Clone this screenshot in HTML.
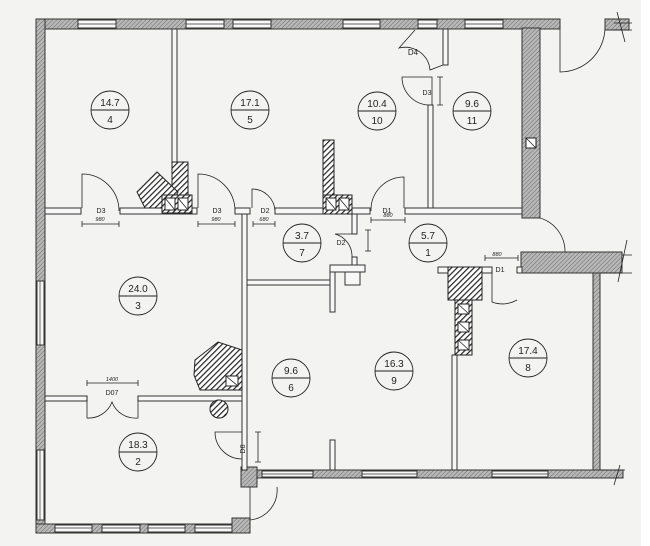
<!DOCTYPE html>
<html><head><meta charset="utf-8"><style>
html,body{margin:0;padding:0;background:#f3f3f2;overflow:hidden;width:650px;height:546px;}
svg{display:block;}
text{font-family:"Liberation Sans",sans-serif;fill:#222;}
</style></head><body>
<svg width="650" height="546" viewBox="0 0 650 546" xmlns="http://www.w3.org/2000/svg">
<defs>
<pattern id="h" width="3" height="3" patternUnits="userSpaceOnUse" patternTransform="rotate(45)">
<rect width="3" height="3" fill="#b8b8b8"/><line x1="0" y1="0" x2="0" y2="3" stroke="#6a6a6a" stroke-width="1"/></pattern>
<pattern id="d" width="4" height="4" patternUnits="userSpaceOnUse" patternTransform="rotate(45)">
<rect width="4" height="4" fill="#fff"/><line x1="0" y1="0" x2="0" y2="4" stroke="#222" stroke-width="2.4"/></pattern>
</defs>
<rect width="650" height="546" fill="#f3f3f2"/>
<rect x="641" y="0" width="9" height="546" fill="#fff"/>
<g stroke="#333" stroke-width="1">
<rect x="36" y="19" width="524" height="10" fill="url(#h)"/>
<rect x="36" y="19" width="9" height="514" fill="url(#h)"/>
<rect x="36" y="524" width="214" height="9" fill="url(#h)"/>
<rect x="605" y="19" width="24" height="11" fill="url(#h)"/>
<rect x="522" y="28" width="18" height="190" fill="url(#h)"/>
<rect x="521" y="252" width="101" height="21" fill="url(#h)"/>
<rect x="593" y="273" width="7" height="197" fill="url(#h)"/>
<rect x="257" y="470" width="366" height="8" fill="url(#h)"/>
<rect x="241" y="467" width="16" height="20" fill="url(#h)"/>
<rect x="232" y="518" width="18" height="15" fill="url(#h)"/>
</g>
<g fill="#f7f7f7" stroke="#333" stroke-width="1">
<rect x="78" y="20" width="38" height="8"/><rect x="186" y="20" width="38" height="8"/><rect x="233" y="20" width="38" height="8"/>
<rect x="343" y="20" width="37" height="8"/><rect x="418" y="20" width="19" height="8"/><rect x="465" y="20" width="38" height="8"/>
<rect x="37" y="281" width="7" height="64"/><rect x="37" y="450" width="7" height="70"/>
<rect x="55" y="525" width="37" height="7"/><rect x="102" y="525" width="38" height="7"/><rect x="148" y="525" width="37" height="7"/><rect x="195" y="525" width="37" height="7"/>
<rect x="262" y="471" width="51" height="6"/><rect x="362" y="471" width="55" height="6"/><rect x="492" y="471" width="56" height="6"/>
</g>
<g stroke="#333" stroke-width="0.7">
<line x1="78" y1="24" x2="116" y2="24"/><line x1="186" y1="24" x2="224" y2="24"/><line x1="233" y1="24" x2="271" y2="24"/>
<line x1="343" y1="24" x2="380" y2="24"/><line x1="418" y1="24" x2="437" y2="24"/><line x1="465" y1="24" x2="503" y2="24"/>
<line x1="40" y1="281" x2="40" y2="345"/><line x1="40" y1="450" x2="40" y2="520"/>
<line x1="55" y1="528" x2="92" y2="528"/><line x1="102" y1="528" x2="140" y2="528"/><line x1="148" y1="528" x2="185" y2="528"/><line x1="195" y1="528" x2="232" y2="528"/>
<line x1="262" y1="474" x2="313" y2="474"/><line x1="362" y1="474" x2="417" y2="474"/><line x1="492" y1="474" x2="548" y2="474"/>
</g>
<g fill="#f7f7f7" stroke="#333" stroke-width="1">
<rect x="172" y="29" width="5" height="152"/>
<rect x="45" y="208" width="36" height="6"/>
<rect x="120" y="208" width="77" height="6"/>
<rect x="235" y="208" width="15" height="6"/>
<rect x="275" y="208" width="95" height="6"/>
<rect x="405" y="208" width="117" height="6"/>
<rect x="242" y="214" width="5" height="256"/>
<rect x="352" y="214" width="5" height="20"/>
<rect x="352" y="257" width="5" height="10"/>
<rect x="247" y="280" width="83" height="5"/>
<rect x="330" y="265" width="35" height="7"/>
<rect x="345" y="272" width="15" height="13"/>
<rect x="330" y="272" width="5" height="40"/>
<rect x="330" y="440" width="5" height="30"/>
<rect x="428" y="105" width="5" height="103"/>
<rect x="443" y="29" width="5" height="36"/>
<rect x="45" y="396" width="42" height="5"/>
<rect x="138" y="396" width="104" height="5"/>
<rect x="452" y="355" width="5" height="115"/>
<rect x="438" y="267" width="10" height="6"/><rect x="482" y="267" width="10" height="6"/>
<rect x="517" y="267" width="5" height="6"/>
</g>
<g stroke="#222" stroke-width="1">
<rect x="172" y="162" width="16" height="33" fill="url(#d)"/>
<polygon points="137,192 157,172 178,192 170,208 145,208" fill="url(#d)"/>
<rect x="162" y="195" width="30" height="18" fill="url(#d)"/>
<rect x="165" y="198" width="10" height="12" fill="#fff"/><rect x="178" y="198" width="10" height="12" fill="#fff"/>
<rect x="323" y="140" width="11" height="55" fill="url(#d)"/>
<rect x="323" y="195" width="29" height="19" fill="url(#d)"/>
<rect x="326" y="198" width="10" height="12" fill="#fff"/><rect x="339" y="198" width="10" height="12" fill="#fff"/>
<rect x="448" y="267" width="34" height="33" fill="url(#d)"/>
<rect x="455" y="300" width="17" height="55" fill="url(#d)"/>
<rect x="458" y="304" width="11" height="10" fill="#fff"/><rect x="458" y="322" width="11" height="10" fill="#fff"/><rect x="458" y="340" width="11" height="10" fill="#fff"/>
<polygon points="195,360 218,342 242,350 242,390 200,390 194,375" fill="url(#d)"/>
<rect x="226" y="376" width="12" height="10" fill="#fff"/>
<circle cx="219" cy="409" r="9" fill="url(#d)"/>
<rect x="526" y="138" width="10" height="10" fill="#fff"/>
</g>
<g stroke="#222" stroke-width="0.8" fill="none">
<line x1="165" y1="198" x2="175" y2="210"/><line x1="178" y1="198" x2="188" y2="210"/>
<line x1="326" y1="198" x2="336" y2="210"/><line x1="339" y1="198" x2="349" y2="210"/>
<line x1="458" y1="304" x2="469" y2="314"/><line x1="458" y1="322" x2="469" y2="332"/><line x1="458" y1="340" x2="469" y2="350"/>
<line x1="226" y1="376" x2="238" y2="386"/><line x1="526" y1="138" x2="536" y2="148"/>
<path d="M82,208 V174 A37,37 0 0 1 119,211"/>
<path d="M198,208 V174 A37,37 0 0 1 235,211"/>
<path d="M252,208 V189 A23,23 0 0 1 275,211"/>
<path d="M404,208 V177 A33,33 0 0 0 371,211"/>
<path d="M352,234 H335 A23,23 0 0 1 352,257"/>
<path d="M443,65 L430,70 A25,25 0 0 0 399,48 L415,30"/>
<path d="M432,105 V77 H402 A28,28 0 0 0 428,105"/>
<path d="M492,270 V302 A29,29 0 0 0 517,300"/>
<path d="M540,218 A35,35 0 0 1 565,252"/>
<path d="M560,29 V72 A45,45 0 0 0 605,28"/>
<path d="M242,432 H215 A27,27 0 0 0 242,459"/>
<path d="M250,487 V520 A30,30 0 0 0 277,487"/>
<path d="M87,396 V418 A25,25 0 0 0 112,402 A25,25 0 0 0 138,418 V396"/>
<path d="M82,224 H119 M82,221 V227 M119,221 V227"/>
<path d="M198,224 H235 M198,221 V227 M235,221 V227"/>
<path d="M253,224 H275 M253,221 V227 M275,221 V227"/>
<path d="M371,220 H405 M371,217 V223 M405,217 V223"/>
<path d="M368,230 V251 M365,230 H371 M365,251 H371"/>
<path d="M440,77 V105 M437,77 H443 M437,105 H443"/>
<path d="M485,258 H518 M485,255 V261 M518,255 V261"/>
<path d="M87,383 H138 M87,380 V386 M138,380 V386"/>
<path d="M258,432 V462 M255,432 H261 M255,462 H261"/>
<path d="M617,12 L625,42 M614,23 H632 M614,30 H632"/>
<path d="M627,240 L618,282 M622,255 H632 M600,273 H632"/>
<path d="M620,465 L614,485 M600,470 H625"/>
</g>
<g font-size="7" text-anchor="middle">
<text x="101" y="213">D3</text><text x="217" y="213">D3</text><text x="265" y="213">D2</text>
<text x="387" y="213">D1</text><text x="341" y="245">D2</text><text x="427" y="95">D3</text>
<text x="413" y="55" font-size="8">D4</text><text x="500" y="272">D1</text>
<text x="112" y="395">D07</text><text x="245" y="449" transform="rotate(-90 245 449)">D8</text>
</g>
<g font-size="5.5" font-style="italic" text-anchor="middle" fill="#333">
<text x="100" y="221">980</text><text x="216" y="221">980</text><text x="264" y="221">680</text>
<text x="388" y="217">880</text><text x="497" y="256">880</text><text x="112" y="381">1400</text>
</g>
<g stroke="#222" stroke-width="0.9" fill="none">
<g transform="translate(110,110)"><circle r="19"/><line x1="-19" y1="0" x2="19" y2="0"/></g>
<g transform="translate(250,110)"><circle r="19"/><line x1="-19" y1="0" x2="19" y2="0"/></g>
<g transform="translate(377,111)"><circle r="19"/><line x1="-19" y1="0" x2="19" y2="0"/></g>
<g transform="translate(472,111)"><circle r="19"/><line x1="-19" y1="0" x2="19" y2="0"/></g>
<g transform="translate(302,243)"><circle r="19"/><line x1="-19" y1="0" x2="19" y2="0"/></g>
<g transform="translate(428,243)"><circle r="19"/><line x1="-19" y1="0" x2="19" y2="0"/></g>
<g transform="translate(138,296)"><circle r="19"/><line x1="-19" y1="0" x2="19" y2="0"/></g>
<g transform="translate(291,378)"><circle r="19"/><line x1="-19" y1="0" x2="19" y2="0"/></g>
<g transform="translate(394,371)"><circle r="19"/><line x1="-19" y1="0" x2="19" y2="0"/></g>
<g transform="translate(528,358)"><circle r="19"/><line x1="-19" y1="0" x2="19" y2="0"/></g>
<g transform="translate(138,452)"><circle r="19"/><line x1="-19" y1="0" x2="19" y2="0"/></g>
</g>
<g font-size="10" text-anchor="middle">
<text x="110" y="106">14.7</text><text x="110" y="123">4</text>
<text x="250" y="106">17.1</text><text x="250" y="123">5</text>
<text x="377" y="107">10.4</text><text x="377" y="124">10</text>
<text x="472" y="107">9.6</text><text x="472" y="124">11</text>
<text x="302" y="239">3.7</text><text x="302" y="256">7</text>
<text x="428" y="239">5.7</text><text x="428" y="256">1</text>
<text x="138" y="292">24.0</text><text x="138" y="309">3</text>
<text x="291" y="374">9.6</text><text x="291" y="391">6</text>
<text x="394" y="367">16.3</text><text x="394" y="384">9</text>
<text x="528" y="354">17.4</text><text x="528" y="371">8</text>
<text x="138" y="448">18.3</text><text x="138" y="465">2</text>
</g>
</svg>
</body></html>
